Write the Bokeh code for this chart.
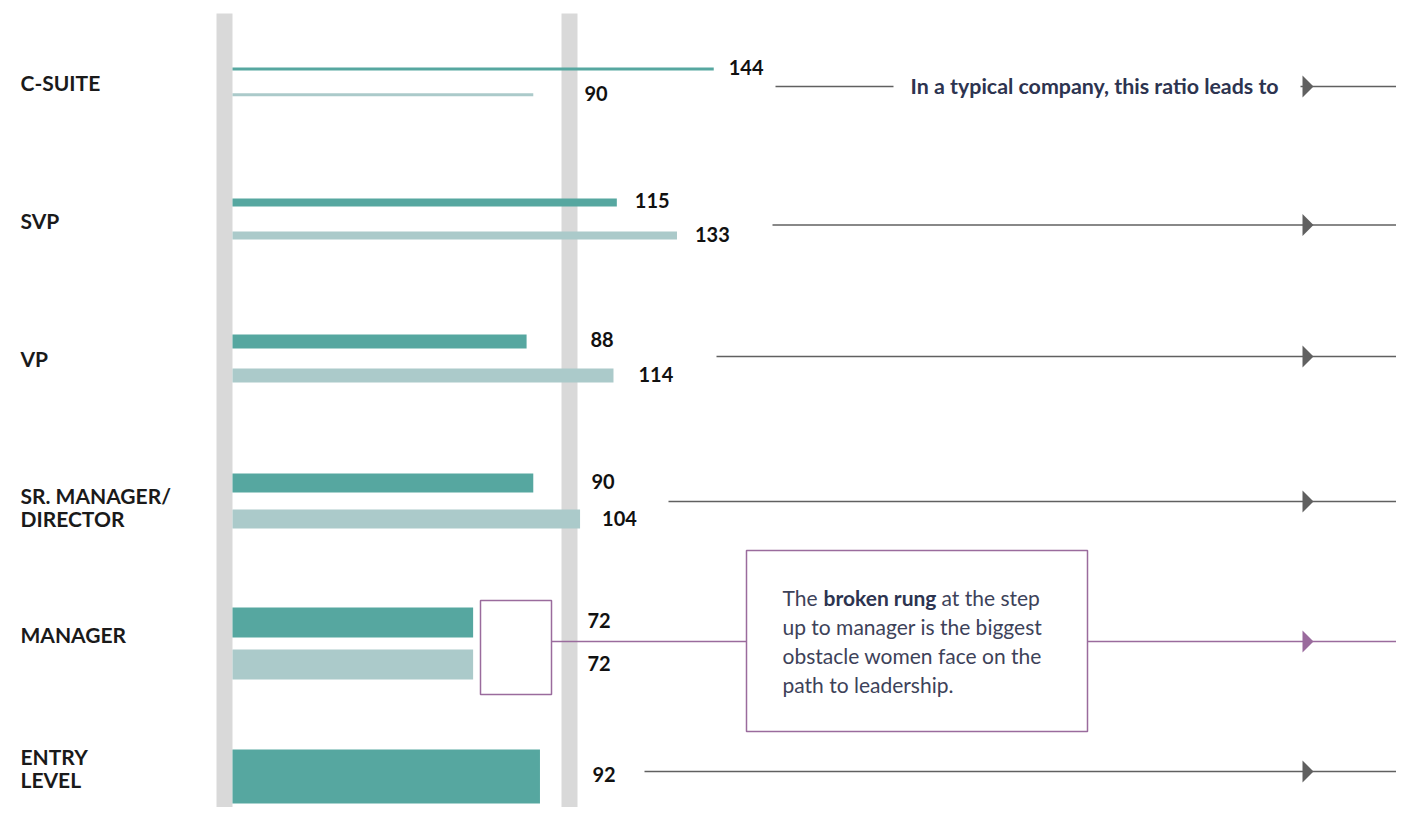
from bokeh.plotting import figure
from bokeh.models import Range1d
from bokeh.core.properties import value
from bokeh.embed import file_html
from bokeh.resources import INLINE

# ---------------- data ----------------
categories = ["C-SUITE", "SVP", "VP", "SR. MANAGER/\nDIRECTOR", "MANAGER", "ENTRY\nLEVEL"]
series_dark = [144, 115, 88, 90, 72, 92]
series_light = [90, 133, 114, 104, 72]          # entry level has a single bar
parity = 100
note_top = "In a typical company, this ratio leads to"
note_box = ["The", "broken rung", "at the step", "up to manager is the biggest",
            "obstacle women face on the", "path to leadership."]

# ---------------- layout (pixel positions on the page) ----------------
X0 = 232.0            # page x of value 0
PXU = 3.342           # pixels per unit
W, H = 1396, 807
def vx(X):
    return (X - X0) / PXU

dark_y = [68.5, 202, 341, 482.5, 622, 776]
dark_h = [3, 8, 14, 19, 30, 54]
light_y = [94.3, 235, 375, 518.5, 664]
light_h = [3, 8, 14, 19, 30]
label_y = [82, 220, 358, 506, 634, 767]
dark_dx = [15, 18, 13, 14, 10, 15]
light_dx = [7, 18, 25, 22, 10]
line_y = [86, 224.5, 356, 501, 641, 771]
line_x0 = [775, 772, 716, 668, 1087, 644]
RAIL_R = 577

TEAL = "#56a7a0"
TEAL_L = "#abcaca"
RAIL = "#d9d9d9"
GRAY = "#606060"
PURPLE = "#9a6b9d"
NAVY = "#2d3450"
TXT = "#3d4259"
FONT = "Lato"

p = figure(width=W, height=H, x_range=Range1d(vx(0), vx(W)),
           y_range=Range1d(H, 0), output_backend="svg",
           toolbar_location=None, min_border=0)
p.axis.visible = False
p.grid.visible = False
p.outline_line_color = None
p.background_fill_color = "white"
p.border_fill_color = "white"

# rails
p.quad(left=[vx(216), vx(561)], right=[vx(232), vx(577)], top=[13, 13], bottom=[830, 830],
       fill_color=RAIL, line_color=None)

# bars
p.hbar(y=dark_y, left=0, right=series_dark, height=dark_h, fill_color=TEAL, line_color=None)
p.hbar(y=light_y, left=0, right=series_light, height=light_h, fill_color=TEAL_L, line_color=None)

# value labels
def label_x(v, dx):
    end = X0 + v * PXU
    return vx(max(end, RAIL_R) + dx)

p.text(x=[label_x(v, d) for v, d in zip(series_dark, dark_dx)], y=[y - 2 for y in dark_y],
       text=[str(v) for v in series_dark], text_font=value(FONT), text_font_style="bold",
       text_font_size="20px", text_color="#111111", text_baseline="middle", text_align="left")
p.text(x=[label_x(v, d) for v, d in zip(series_light, light_dx)], y=[y - 1 for y in light_y],
       text=[str(v) for v in series_light], text_font=value(FONT), text_font_style="bold",
       text_font_size="20px", text_color="#111111", text_baseline="middle", text_align="left")

# category labels
p.text(x=[vx(20)] * len(categories), y=label_y, text=categories, text_font=value(FONT),
       text_font_style="bold", text_font_size="21px", text_color="#1a1a1a",
       text_baseline="middle", text_align="left", text_line_height=0.92)

# guide lines to the right
gray_rows = [0, 1, 2, 3, 5]
p.segment(x0=[vx(line_x0[i]) for i in gray_rows], x1=[vx(1420)] * len(gray_rows),
          y0=[line_y[i] for i in gray_rows], y1=[line_y[i] for i in gray_rows],
          line_color=GRAY, line_width=1.3)
# gap for the note text on the top row
p.quad(left=[vx(893)], right=[vx(1300)], top=[line_y[0] - 3], bottom=[line_y[0] + 3],
       fill_color="white", line_color=None)
p.text(x=[vx(910)], y=[line_y[0] - 1], text=[note_top], text_font=value(FONT),
       text_font_style="bold", text_font_size="21.4px", text_color=NAVY,
       text_baseline="middle", text_align="left")

# manager row: purple connector
my = line_y[4]
p.segment(x0=[vx(551), vx(1087)], x1=[vx(746), vx(1420)], y0=[my, my], y1=[my, my],
          line_color=PURPLE, line_width=1.3)
p.quad(left=[vx(480)], right=[vx(551)], top=[600], bottom=[694], fill_color=None,
       line_color=PURPLE, line_width=1.5)
p.quad(left=[vx(746)], right=[vx(1087)], top=[550], bottom=[731], fill_color="white",
       line_color=PURPLE, line_width=1.5)

# arrow heads
ax0, ax1 = 1302, 1313
xs = [[vx(ax0), vx(ax0), vx(ax1)] for _ in line_y]
ys = [[y - 11, y + 11, y] for y in line_y]
cols = [GRAY, GRAY, GRAY, GRAY, PURPLE, GRAY]
p.patches(xs=xs, ys=ys, fill_color=cols, line_color=None)

# box text
ty = [597, 626, 655, 684]
p.text(x=[vx(782)], y=[ty[0]], text=[note_box[0]], text_font=value(FONT), text_font_size="21px",
       text_color=TXT, text_baseline="middle")
p.text(x=[vx(823)], y=[ty[0]], text=[note_box[1]], text_font=value(FONT), text_font_style="bold",
       text_font_size="21px", text_color=NAVY, text_baseline="middle")
p.text(x=[vx(941)], y=[ty[0]], text=[note_box[2]], text_font=value(FONT), text_font_size="21px",
       text_color=TXT, text_baseline="middle")
p.text(x=[vx(782)] * 3, y=ty[1:], text=note_box[3:], text_font=value(FONT), text_font_size="21px",
       text_color=TXT, text_baseline="middle")

open("out.html", "w").write(file_html(p, INLINE))
